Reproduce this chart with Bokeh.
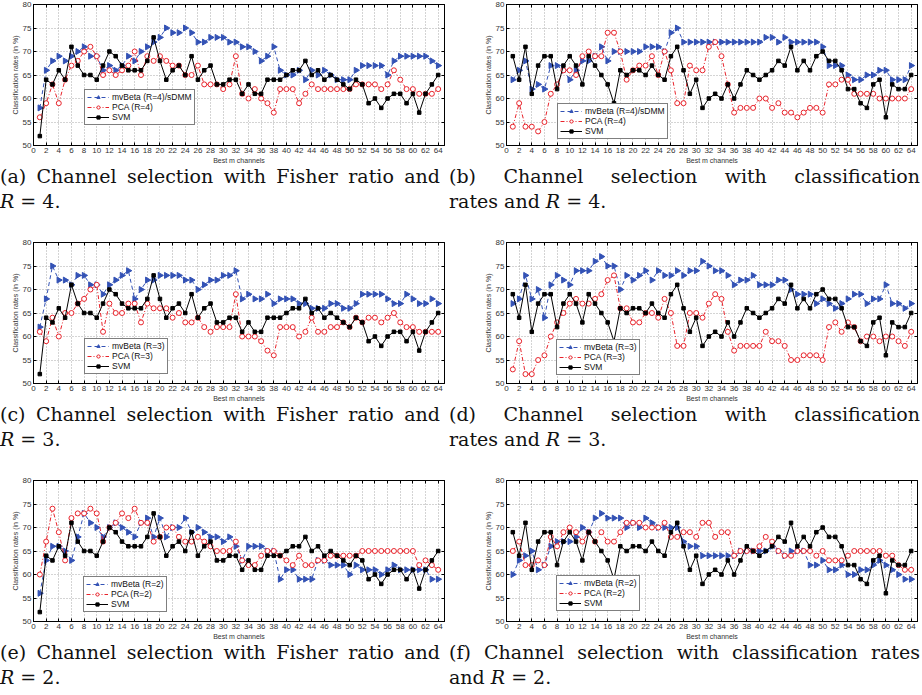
import math
from bokeh.plotting import figure
from bokeh.models import Range1d, LinearAxis, FixedTicker, Div, Spacer, CustomJSTickFormatter
from bokeh.layouts import column, row
from bokeh.embed import file_html
from bokeh.resources import INLINE

# ---------------- data ----------------
channels = list(range(1, 65))
x_ticks = list(range(0, 65, 2))
y_ticks = [50, 55, 60, 65, 70, 75, 80]

# SVM baseline (same in all Fisher-ratio panels / all classification-rate panels)
svm_fisher = [52, 64, 63, 66, 64, 71, 67, 65, 65, 64, 67, 70, 69, 67, 66, 66, 66, 68, 73, 68,
              64, 66, 67, 65, 69, 64, 66, 67, 63, 63, 64, 64, 61, 63, 61, 61, 64, 64, 64, 65,
              66, 66, 68, 65, 66, 64, 65, 64, 63, 62, 64, 63, 59, 60, 58, 60, 61, 61, 59, 61,
              57, 61, 63, 65]
svm_class = [69, 64, 71, 61, 67, 69, 69, 62, 67, 69, 67, 63, 69, 67, 65, 63, 59, 66, 65, 66,
             66, 65, 67, 65, 64, 69, 71, 66, 61, 64, 58, 60, 61, 60, 63, 60, 63, 66, 65, 64,
             65, 66, 68, 67, 71, 66, 68, 66, 69, 70, 68, 68, 66, 62, 62, 59, 58, 63, 64, 56,
             63, 62, 62, 65]

# (a) Fisher ratio, R=4
mvbeta_a = [58, 66, 68, 69, 68, 69, 70, 71, 69, 69, 66, 67, 66, 67, 69, 68, 70, 71, 72, 73,
            75, 74, 74, 75, 74, 72, 72, 73, 73, 73, 72, 72, 71, 71, 70, 68, 69, 71, 66, 65,
            65, 66, 64, 66, 65, 66, 65, 64, 64, 64, 66, 67, 67, 67, 67, 65, 68, 69, 69, 69,
            69, 69, 68, 67]
pca_a = [56, 59, 63, 59, 64, 67, 68, 70, 71, 69, 65, 66, 65, 66, 67, 70, 65, 69, 68, 69,
         68, 67, 67, 65, 65, 67, 63, 63, 63, 62, 63, 69, 61, 60, 62, 60, 59, 57, 62, 62,
         62, 59, 61, 63, 62, 62, 62, 62, 62, 62, 63, 63, 63, 63, 62, 63, 66, 64, 62, 62,
         61, 61, 61, 62]

# (b) classification rates, R=4
mvbeta_b = [64, 66, 68, 62, 63, 62, 67, 67, 66, 64, 66, 68, 68, 69, 71, 68, 70, 70, 70, 70,
            70, 71, 71, 71, 70, 74, 75, 72, 72, 72, 72, 72, 72, 72, 72, 72, 72, 72, 72, 72,
            73, 73, 72, 73, 72, 72, 72, 72, 72, 71, 67, 67, 67, 65, 64, 64, 65, 65, 66, 66,
            64, 64, 64, 67]
pca_b = [54, 59, 54, 54, 53, 55, 61, 63, 66, 66, 65, 69, 70, 69, 69, 74, 74, 70, 64, 66,
         67, 67, 69, 65, 70, 66, 59, 59, 67, 66, 66, 71, 72, 69, 63, 57, 58, 58, 58, 60,
         60, 58, 59, 57, 57, 56, 57, 58, 58, 57, 63, 63, 64, 64, 61, 61, 61, 61, 60, 60,
         60, 60, 60, 62]

# (c) Fisher ratio, R=3
mvbeta_c = [62, 68, 75, 72, 72, 71, 73, 73, 71, 71, 69, 71, 72, 73, 74, 68, 70, 72, 72, 73,
            73, 73, 73, 72, 72, 70, 71, 72, 72, 73, 73, 74, 68, 69, 68, 68, 69, 67, 68, 68,
            68, 67, 67, 66, 66, 66, 67, 67, 66, 66, 67, 69, 69, 69, 69, 68, 67, 67, 69, 68,
            67, 67, 68, 67]
pca_c = [61, 59, 64, 60, 65, 65, 67, 68, 70, 71, 61, 67, 65, 65, 67, 67, 63, 67, 66, 66,
         66, 64, 65, 63, 63, 64, 62, 61, 62, 62, 62, 69, 60, 60, 60, 59, 57, 56, 62, 62,
         62, 60, 61, 64, 61, 61, 62, 62, 63, 62, 64, 63, 64, 64, 63, 64, 65, 63, 62, 62,
         61, 61, 61, 61]

# (d) classification rates, R=3
mvbeta_d = [67, 68, 73, 68, 70, 64, 71, 73, 72, 71, 74, 74, 74, 76, 77, 75, 75, 70, 73, 72,
            73, 74, 72, 74, 73, 73, 74, 73, 74, 74, 76, 75, 74, 74, 73, 71, 72, 72, 73, 71,
            71, 71, 72, 72, 70, 69, 69, 69, 67, 68, 67, 66, 67, 68, 69, 69, 67, 68, 68, 71,
            67, 67, 66, 67]
pca_d = [53, 59, 52, 52, 55, 56, 60, 63, 65, 67, 68, 67, 67, 68, 69, 72, 73, 66, 66, 63,
         63, 65, 65, 64, 68, 65, 58, 58, 65, 65, 64, 67, 69, 68, 61, 57, 58, 58, 58, 58,
         61, 59, 59, 58, 55, 55, 56, 56, 56, 55, 62, 63, 61, 63, 62, 59, 60, 60, 59, 60,
         60, 59, 58, 61]

# (e) Fisher ratio, R=2
mvbeta_e = [56, 63, 66, 66, 65, 63, 68, 73, 71, 70, 68, 70, 71, 70, 69, 68, 71, 72, 68, 72,
            68, 70, 70, 72, 69, 70, 69, 68, 68, 67, 68, 66, 63, 66, 66, 66, 65, 65, 59, 61,
            61, 59, 59, 59, 63, 63, 62, 62, 62, 60, 62, 61, 61, 61, 60, 61, 62, 61, 61, 61,
            61, 61, 59, 59]
pca_e = [60, 67, 74, 69, 63, 72, 73, 73, 74, 73, 67, 70, 71, 73, 72, 74, 71, 71, 67, 68,
         70, 70, 68, 67, 67, 68, 67, 66, 65, 65, 65, 67, 63, 62, 62, 64, 65, 65, 64, 63,
         62, 64, 62, 62, 63, 63, 64, 64, 64, 64, 64, 65, 65, 65, 65, 65, 65, 65, 65, 65,
         62, 63, 62, 61]

# (f) classification rates, R=2
mvbeta_f = [60, 63, 64, 65, 61, 62, 66, 67, 67, 67, 68, 70, 69, 72, 73, 72, 72, 72, 70, 71,
            70, 72, 71, 70, 70, 70, 70, 67, 66, 66, 64, 64, 64, 64, 64, 64, 65, 65, 65, 65,
            65, 66, 65, 64, 65, 65, 65, 62, 62, 63, 61, 61, 62, 60, 60, 61, 61, 62, 63, 62,
            61, 60, 59, 59]
pca_f = [65, 67, 62, 62, 63, 62, 68, 66, 69, 70, 69, 67, 69, 67, 69, 67, 67, 69, 71, 71,
         71, 70, 70, 70, 71, 68, 68, 69, 69, 68, 71, 71, 68, 69, 69, 64, 65, 65, 65, 66,
         68, 67, 65, 64, 64, 65, 65, 65, 64, 65, 63, 63, 63, 64, 65, 65, 65, 65, 65, 64,
         64, 62, 61, 61]

mv_labels = ["mvBeta (R=4)/sDMM", "mvBeta (R=3)", "mvBeta (R=2)"]
pca_labels = ["PCA (R=4)", "PCA (R=3)", "PCA (R=2)"]
svm_label = "SVM"
x_title = "Best m channels"
y_title = "Classification rates (in %)"

captions = [
    ("(a) Channel selection with Fisher ratio and", "<i>R</i> = 4."),
    ("(b) Channel selection with classification", "rates and <i>R</i> = 4."),
    ("(c) Channel selection with Fisher ratio and", "<i>R</i> = 3."),
    ("(d) Channel selection with classification", "rates and <i>R</i> = 3."),
    ("(e) Channel selection with Fisher ratio and", "<i>R</i> = 2."),
    ("(f) Channel selection with classification rates", "and <i>R</i> = 2."),
]

# ---------------- styling ----------------
BLUE = "#3352b5"
RED = "#e8232b"
SANS = "Liberation Sans"


def style_axis(ax, ticks, labels=True):
    ax.ticker = FixedTicker(ticks=ticks)
    ax.major_tick_in = 3
    ax.major_tick_out = 0
    ax.minor_tick_line_color = None
    ax.major_tick_line_color = "black"
    ax.axis_line_color = "black"
    ax.major_label_text_font = SANS
    ax.major_label_text_font_size = "8px"
    ax.major_label_text_color = "#333333"
    ax.major_label_standoff = 2
    ax.axis_label_text_font = SANS
    ax.axis_label_text_font_size = "7px"
    ax.axis_label_text_font_style = "normal"
    ax.axis_label_text_color = "#333333"
    ax.axis_label_standoff = 1
    if not labels:
        ax.formatter = CustomJSTickFormatter(code="return ''")
        ax.major_label_standoff = 0


def panel(mv, pca, svm, mv_label, pca_label, legend_xy, width, b_left, b_right):
    p = figure(width=width, height=166, x_range=Range1d(0, 65), y_range=Range1d(50, 80),
               output_backend="svg", toolbar_location=None,
               min_border_left=b_left, min_border_right=b_right,
               min_border_top=4, min_border_bottom=18)
    p.outline_line_color = "black"
    p.outline_line_width = 1
    style_axis(p.xaxis[0], x_ticks)
    style_axis(p.yaxis[0], y_ticks)
    p.xaxis.axis_label = x_title
    p.yaxis.axis_label = y_title
    top = LinearAxis()
    style_axis(top, x_ticks, labels=False)
    right = LinearAxis()
    style_axis(right, y_ticks, labels=False)
    p.add_layout(top, "above")
    p.add_layout(right, "right")

    p.xgrid.ticker = FixedTicker(ticks=x_ticks)
    p.ygrid.ticker = FixedTicker(ticks=y_ticks)
    for g in (p.xgrid, p.ygrid):
        g.grid_line_color = "#a8a8a8"
        g.grid_line_dash = "1 2"
        g.grid_line_width = 1

    p.line(channels, mv, color=BLUE, line_width=1, line_dash="4 3", legend_label=mv_label)
    p.scatter(channels, mv, marker="triangle", size=6, angle=-math.pi / 2,
              color=BLUE, legend_label=mv_label)
    p.line(channels, pca, color=RED, line_width=1, line_dash="4 2 1 2", legend_label=pca_label)
    p.scatter(channels, pca, marker="circle", size=5, line_color=RED, fill_color="white",
              line_width=1, legend_label=pca_label)
    p.line(channels, svm, color="black", line_width=1, legend_label=svm_label)
    p.scatter(channels, svm, marker="square", size=3.5, color="black", legend_label=svm_label)

    lg = p.legend[0]
    lg.location = legend_xy
    lg.border_line_color = "black"
    lg.border_line_width = 1
    lg.background_fill_color = "white"
    lg.background_fill_alpha = 1
    lg.label_text_font = SANS
    lg.label_text_font_size = "8.5px"
    lg.label_text_color = "#111111"
    lg.glyph_width = 22
    lg.glyph_height = 8
    lg.label_height = 8
    lg.label_standoff = 3
    lg.padding = 2
    lg.spacing = 0
    lg.margin = 0
    return p


def caption(line1, line2, width, pad_left, text_width):
    html = ('<div style="font-family:\'DejaVu Serif\',serif;font-size:19px;line-height:25px;'
            f'color:#111;width:{text_width}px;margin-left:{pad_left}px;margin-top:-2px">'
            f'<div style="text-align:justify;text-align-last:justify;white-space:nowrap">{line1}</div>'
            f'<div style="white-space:nowrap">{line2}</div></div>')
    return Div(text=html, width=width, height=52, margin=0)


WA, WB = 449, 472
pa = panel(mvbeta_a, pca_a, svm_fisher, mv_labels[0], pca_labels[0], (51, 20), WA, 33, 5)
pb = panel(mvbeta_b, pca_b, svm_class, mv_labels[0], pca_labels[0], (51, 6), WB, 57, 4)
pc = panel(mvbeta_c, pca_c, svm_fisher, mv_labels[1], pca_labels[1], (51, 9), WA, 33, 5)
pd_ = panel(mvbeta_d, pca_d, svm_class, mv_labels[1], pca_labels[1], (50, 8), WB, 57, 4)
pe = panel(mvbeta_e, pca_e, svm_fisher, mv_labels[2], pca_labels[2], (50, 9), WA, 33, 5)
pf = panel(mvbeta_f, pca_f, svm_class, mv_labels[2], pca_labels[2], (50, 10), WB, 57, 4)

caps = []
for i, (l1, l2) in enumerate(captions):
    if i % 2 == 0:
        caps.append(caption(l1, l2, WA, 0, 440))
    else:
        caps.append(caption(l1, l2, WB, 0, 471))

layout = column(
    row(pa, pb), row(caps[0], caps[1]), Spacer(height=20),
    row(pc, pd_), row(caps[2], caps[3]), Spacer(height=20),
    row(pe, pf), row(caps[4], caps[5]),
)

open("out.html", "w").write(file_html(layout, INLINE))
